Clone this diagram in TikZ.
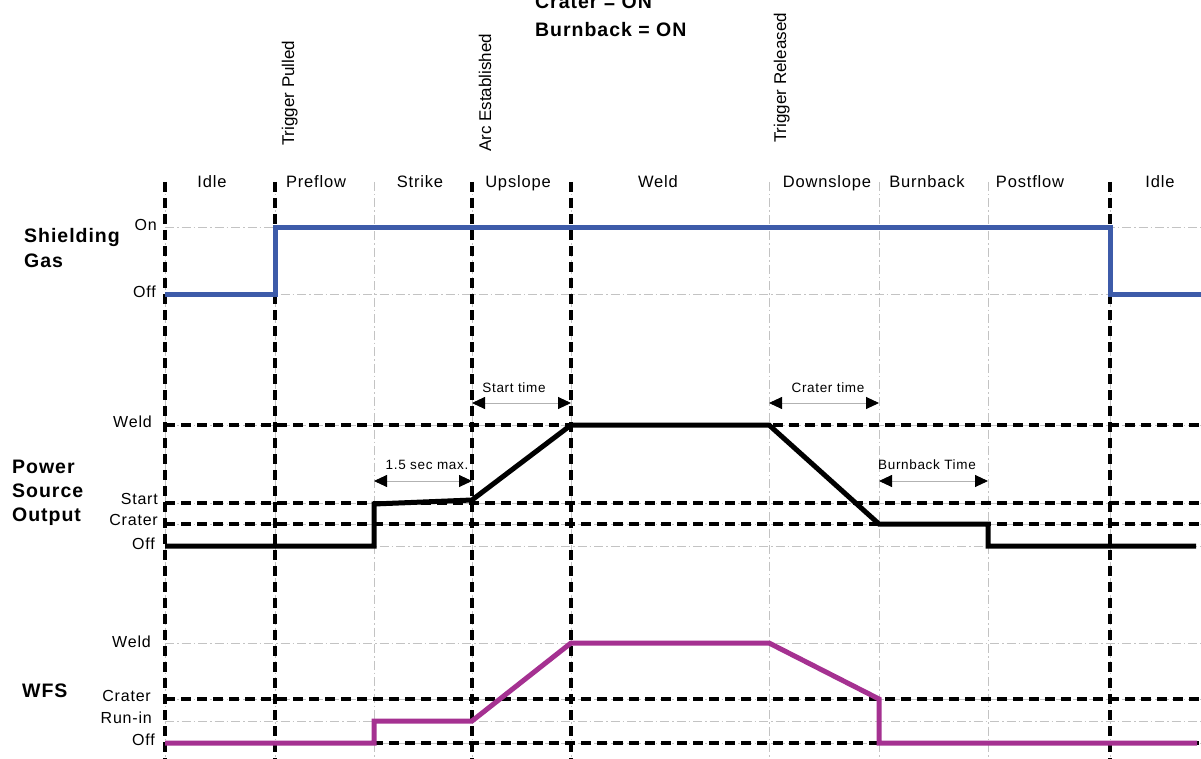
\documentclass[tikz,border=0pt]{standalone}
\usepackage{fontspec}
\setmainfont{Liberation Sans}
\newfontfamily\spacedfont[LetterSpace=5]{Liberation Sans}
\usetikzlibrary{arrows.meta}
\definecolor{gasblue}{RGB}{61,91,169}
\definecolor{wfspurple}{RGB}{165,49,145}
\definecolor{gridgray}{RGB}{195,195,195}
\begin{document}
\begin{tikzpicture}[x=1pt,y=-1pt,
  grid/.style={draw=gridgray, line width=1pt, dash pattern=on 9pt off 3pt on 1.5pt off 3pt},
  major/.style={draw=black, line width=3.5pt, dash pattern=on 10pt off 6pt},
  sig/.style={line width=5pt, line join=miter},
  lvl/.style={anchor=base east, font=\spacedfont\fontsize{16}{19}\selectfont, inner sep=0pt},
  phase/.style={anchor=base, font=\spacedfont\fontsize{16.5}{19}\selectfont, inner sep=0pt},
  event/.style={rotate=90, anchor=base west, font=\fontsize{17}{19}\selectfont, inner sep=0pt},
  sect/.style={anchor=base west, font=\spacedfont\fontsize{19.5}{24}\selectfont\bfseries, inner sep=0pt},
  spanarrow/.style={{Triangle[length=13pt,width=12pt,color=black]}-{Triangle[length=13pt,width=12pt,color=black]}, draw=gray!60, line width=0.9pt},
  spanlbl/.style={anchor=base, font=\spacedfont\fontsize{13.5}{16}\selectfont, inner sep=0pt}]
\useasboundingbox (0,0) rectangle (1201,759);

% title
\node[sect] (t1) at (535,9) {Crater = ON};
\node[sect] (t2) at (535,37) {Burnback = ON};

% event labels
\node[event] (ev1) at (294,146) {Trigger Pulled};
\node[event] (ev2) at (491,152) {Arc Established};
\node[event] (ev3) at (786,143) {Trigger Released};

% phase labels
\node[phase] (p1) at (212,188) {Idle};
\node[phase] (p2) at (316,188) {Preflow};
\node[phase] (p3) at (420,188) {Strike};
\node[phase] (p4) at (518,188) {Upslope};
\node[phase] (p5) at (658,188) {Weld};
\node[phase] (p6) at (827,188) {Downslope};
\node[phase] (p7) at (927,188) {Burnback};
\node[phase] (p8) at (1030,188) {Postflow};
\node[phase] (p9) at (1160,188) {Idle};

% grid lines
\foreach \x in {165,275,374,472,571,769,879,988,1110}
  \draw[grid] (\x,182) -- (\x,759);
\foreach \y in {228,294,425,503,524,546,643,699,721,743}
  \draw[grid] (165,\y) -- (1201,\y);
\foreach \x in {165,275,472,571,1110}
  \draw[major] (\x,182) -- (\x,759);
\foreach \y in {425,503,524,699,743}
  \draw[major] (165,\y) -- (1201,\y);

% section labels
\node[sect] (s1) at (24,243) {Shielding};
\node[sect] (s2) at (24,267) {Gas};
\node[sect] (s3) at (12,473) {Power};
\node[sect] (s4) at (12,497) {Source};
\node[sect] (s5) at (12,521) {Output};
\node[sect] (s6) at (22,697) {WFS};

% level labels
\node[lvl] (l1) at (157,231) {On};
\node[lvl] (l2) at (156,297) {Off};
\node[lvl] (l3) at (152,427) {Weld};
\node[lvl] (l4) at (158,504) {Start};
\node[lvl] (l5) at (158,525) {Crater};
\node[lvl] (l6) at (155,549) {Off};
\node[lvl] (l7) at (151,647) {Weld};
\node[lvl] (l8) at (151,701) {Crater};
\node[lvl] (l9) at (152,723) {Run-in};
\node[lvl] (l10) at (155,745) {Off};

% signals
\draw[sig, gasblue] (165,294) -- (275,294) -- (275,228) -- (1110,228) -- (1110,294) -- (1201,294);
\draw[sig, black] (165,546) -- (374,546) -- (374,504) -- (472,500) -- (571,425) -- (769,425) -- (879,524) -- (988,524) -- (988,546) -- (1196,546);
\draw[sig, wfspurple] (165,743) -- (374,743) -- (374,721) -- (472,721) -- (571,643) -- (769,643) -- (879,699) -- (879,743) -- (1197,743);

% time spans
\coordinate (a1) at (472,403);
\coordinate (a2) at (571,403);
\coordinate (b1) at (769,403);
\coordinate (b2) at (879,403);
\coordinate (c1) at (374,481);
\coordinate (c2) at (472,481);
\coordinate (d1) at (879,481);
\coordinate (d2) at (988,481);
\draw[spanarrow] (a1) -- (a2);
\draw[spanarrow] (b1) -- (b2);
\draw[spanarrow] (c1) -- (c2);
\draw[spanarrow] (d1) -- (d2);
\node[spanlbl] (al) at (514,392) {Start time};
\node[spanlbl] (bl) at (828,392) {Crater time};
\node[spanlbl] (cl) at (427,469) {1.5 sec max.};
\node[spanlbl] (dl) at (927,469) {Burnback Time};
\end{tikzpicture}
\end{document}
